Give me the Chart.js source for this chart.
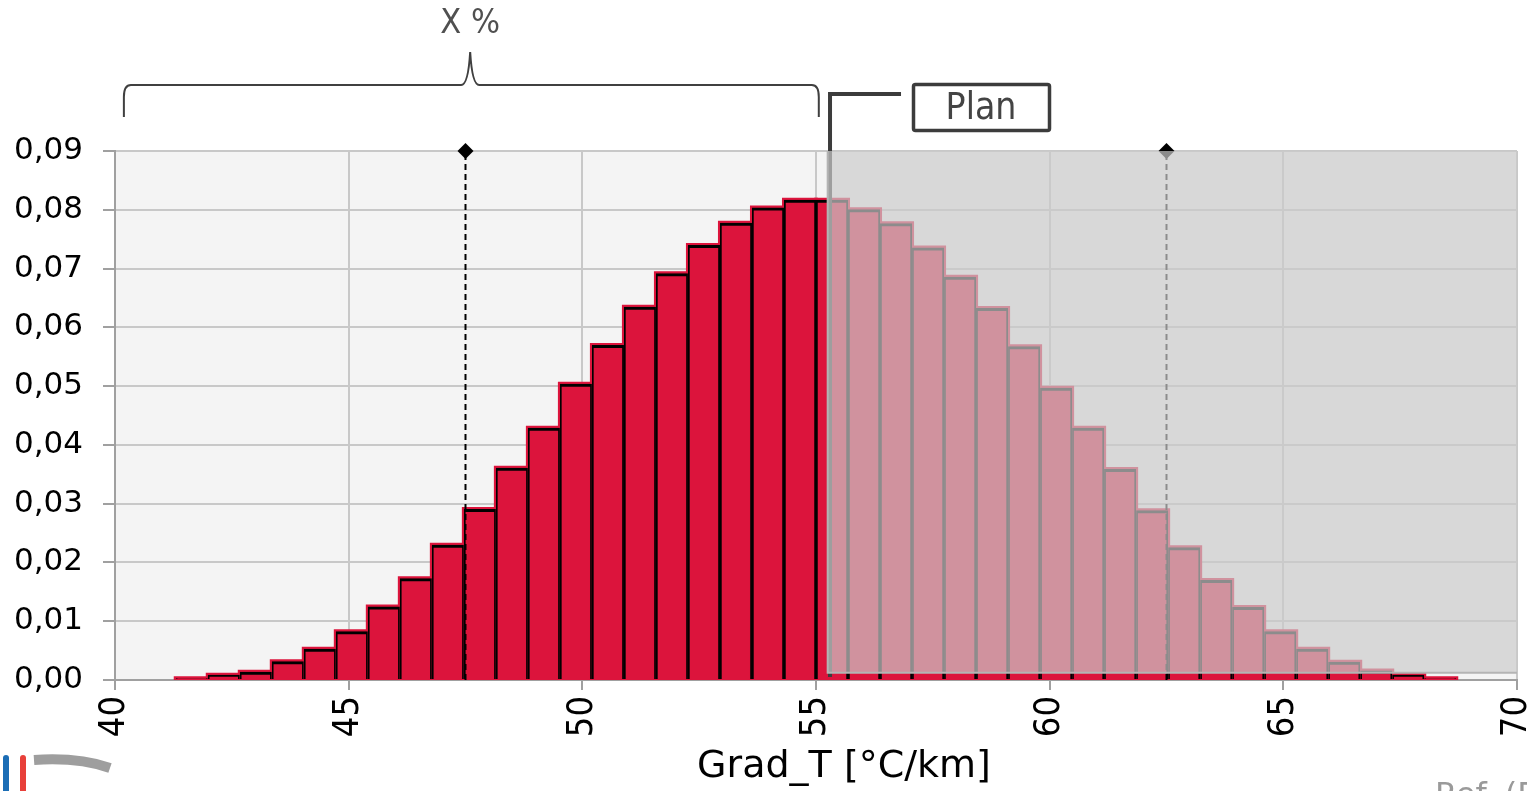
<!DOCTYPE html>
<html>
<head>
<meta charset="utf-8">
<script src="https://cdn.jsdelivr.net/npm/chart.js@4/dist/chart.umd.min.js"></script>
<style>
  html, body { margin: 0; padding: 0; background: #ffffff; }
  #wrap { width: 1527px; height: 791px; overflow: hidden; position: relative; }
  canvas { display: block; }
</style>
</head>
<body>
<div id="wrap"><canvas id="chart" width="1580" height="791"></canvas></div>
<script>
// Histogram of the geothermal gradient: bin centres in °C/km
const binCenters = [
  41.6425, 42.3275, 43.0125, 43.6975, 44.3825, 45.0675, 45.7525, 46.4375, 47.1225, 47.8075,
  48.4925, 49.1775, 49.8625, 50.5475, 51.2325, 51.9175, 52.6025, 53.2875, 53.9725, 54.6575,
  55.3425, 56.0275, 56.7125, 57.3975, 58.0825, 58.7675, 59.4525, 60.1375, 60.8225, 61.5075,
  62.1925, 62.8775, 63.5625, 64.2475, 64.9325, 65.6175, 66.3025, 66.9875, 67.6725, 68.3575
];

// Probability density per bin
const density = [
  0.0003, 0.0009, 0.0014, 0.0032, 0.0053, 0.0083, 0.0125, 0.0173, 0.0230, 0.0291,
  0.0361, 0.0429, 0.0504, 0.0570, 0.0635, 0.0692, 0.0740, 0.0778, 0.0804, 0.0817,
  0.0817, 0.0801, 0.0777, 0.0736, 0.0686, 0.0633, 0.0568, 0.0497, 0.0429, 0.0359,
  0.0289, 0.0226, 0.0170, 0.0124, 0.0083, 0.0053, 0.0031, 0.0016, 0.0009, 0.0003
];

// Percentile markers (dashed verticals with a diamond on top)
const markerValues = [47.5, 62.5];

// Axis ticks
const xTicks = [40, 45, 50, 55, 60, 65, 70];
const yTicks = [0, 0.01, 0.02, 0.03, 0.04, 0.05, 0.06, 0.07, 0.08, 0.09];

// Annotation anchors (axis units)
const planThreshold = 55.3;     // "Plan" cut-off
const shadeStart = 55.25;       // shaded (excluded) range starts here
const shadeFloor = 0.00125;     // shaded band stops just above the baseline
const braceFrom = 40.19, braceTo = 55.06, braceTip = 47.6;

const RED = '#dc143c';
Chart.defaults.font.family = "'DejaVu Sans', sans-serif";

const points = () => binCenters.map((x, i) => ({ x, y: density[i] }));
const markerLine = (v) => ({
  type: 'line',
  data: [{ x: v, y: 0 }, { x: v, y: yTicks[yTicks.length - 1] }],
  borderColor: '#000',
  borderWidth: 2,
  borderDash: [6, 4],
  pointRadius: [0, 8],
  pointStyle: 'rectRot',
  pointBackgroundColor: '#000',
  pointBorderWidth: 0,
  clip: false,
  order: 1
});

const decor = {
  id: 'decor',
  beforeDraw(chart) {
    const { ctx, chartArea: a } = chart;
    ctx.save();
    ctx.fillStyle = '#f4f4f4';
    ctx.fillRect(a.left, a.top, a.right - a.left, a.bottom - a.top);
    ctx.restore();
  },
  afterDatasetsDraw(chart) {
    const { ctx, chartArea: a, scales: { x, y } } = chart;
    ctx.save();
    // leader line from the "Plan" box down the cut-off
    const px = x.getPixelForValue(planThreshold);
    ctx.strokeStyle = '#3c3c3c';
    ctx.lineWidth = 4;
    ctx.lineJoin = 'miter';
    ctx.beginPath();
    ctx.moveTo(px + 71, 94);
    ctx.lineTo(px, 94);
    ctx.lineTo(px, y.getPixelForValue(0.0005));
    ctx.stroke();
    // translucent band over the part above the cut-off
    const x0 = x.getPixelForValue(shadeStart);
    const y0 = y.getPixelForValue(yTicks[yTicks.length - 1]);
    const y1 = y.getPixelForValue(shadeFloor);
    ctx.fillStyle = 'rgba(203,203,203,0.69)';
    ctx.fillRect(x0, y0, a.right - x0, y1 - y0);
    ctx.strokeStyle = '#b4b4b4';
    ctx.lineWidth = 2;
    ctx.beginPath();
    ctx.moveTo(a.right, y1);
    ctx.lineTo(x0, y1);
    ctx.lineTo(x0, y0);
    ctx.stroke();
    ctx.restore();
  },
  afterDraw(chart) {
    const { ctx, scales: { x } } = chart;
    ctx.save();
    // curly brace spanning the retained range
    const bl = x.getPixelForValue(braceFrom);
    const br = x.getPixelForValue(braceTo);
    const bt = x.getPixelForValue(braceTip);
    ctx.strokeStyle = '#404040';
    ctx.lineWidth = 2;
    ctx.beginPath();
    ctx.moveTo(bl, 117);
    ctx.lineTo(bl, 97);
    ctx.quadraticCurveTo(bl, 85, bl + 7, 85);
    ctx.lineTo(bt - 9, 85);
    ctx.quadraticCurveTo(bt - 2, 85, bt, 52);
    ctx.quadraticCurveTo(bt + 2, 85, bt + 9, 85);
    ctx.lineTo(br - 7, 85);
    ctx.quadraticCurveTo(br, 85, br, 97);
    ctx.lineTo(br, 117);
    ctx.stroke();

    ctx.fillStyle = '#505050';
    ctx.font = "34px 'DejaVu Sans Condensed', 'DejaVu Sans', sans-serif";
    ctx.textAlign = 'center';
    ctx.textBaseline = 'middle';
    ctx.fillText('X %', bt, 24);

    // "Plan" label box
    ctx.strokeStyle = '#3c3c3c';
    ctx.lineWidth = 3.5;
    ctx.beginPath();
    ctx.roundRect(913.5, 84.5, 136, 46, 2);
    ctx.stroke();
    ctx.fillStyle = '#444444';
    ctx.font = "37px 'DejaVu Sans Condensed', 'DejaVu Sans', sans-serif";
    ctx.fillText('Plan', 981, 109);

    // axis title
    ctx.fillStyle = '#000';
    ctx.font = "38px 'DejaVu Sans', sans-serif";
    ctx.fillText('Grad_T [°C/km]', 844, 767);

    // corner logo
    ctx.fillStyle = '#1b6db5';
    ctx.beginPath(); ctx.roundRect(3, 755, 6, 44, 3); ctx.fill();
    ctx.fillStyle = '#e8403a';
    ctx.beginPath(); ctx.roundRect(20, 755, 6, 44, 3); ctx.fill();
    ctx.strokeStyle = '#9e9e9e';
    ctx.lineWidth = 10;
    ctx.beginPath();
    ctx.moveTo(34, 760);
    ctx.quadraticCurveTo(78, 757, 110, 768);
    ctx.stroke();

    // source reference (runs off the bottom edge)
    ctx.fillStyle = '#9a9a9a';
    ctx.font = "32px 'DejaVu Sans', sans-serif";
    ctx.textAlign = 'left';
    ctx.textBaseline = 'alphabetic';
    ctx.fillText('Ref. (F', 1435, 805);
    ctx.restore();
  }
};

new Chart(document.getElementById('chart'), {
  type: 'bar',
  data: {
    datasets: [
      {
        data: points(),
        backgroundColor: RED,
        borderWidth: 0,
        inflateAmount: 2,
        grouped: false,
        barPercentage: 1,
        categoryPercentage: 1,
        clip: { left: 10, top: 10, right: 10, bottom: 0 },
        order: 3
      },
      {
        data: points(),
        backgroundColor: 'rgba(0,0,0,0)',
        borderColor: '#000',
        borderWidth: { top: 3, left: 1.75, right: 1.75, bottom: 0 },
        borderSkipped: false,
        inflateAmount: 0,
        grouped: false,
        barPercentage: 1,
        categoryPercentage: 1,
        order: 2
      },
      ...markerValues.map(markerLine)
    ]
  },
  options: {
    responsive: false,
    animation: false,
    events: [],
    devicePixelRatio: 1,
    layout: { padding: { top: 151, right: 63, left: 0, bottom: 0 } },
    plugins: { legend: { display: false }, tooltip: { enabled: false } },
    scales: {
      x: {
        type: 'linear',
        min: xTicks[0],
        max: xTicks[xTicks.length - 1],
        offset: false,
        afterBuildTicks(s) { s.ticks = xTicks.map(v => ({ value: v })); },
        ticks: {
          autoSkip: false,
          maxRotation: 90,
          minRotation: 90,
          padding: 6,
          color: '#000',
          font: { family: "'DejaVu Sans Condensed', 'DejaVu Sans', sans-serif", size: 36 }
        },
        grid: { offset: false, color: '#c8c8c8', lineWidth: 2, tickLength: 10, tickColor: '#a0a0a0' },
        border: { color: '#a0a0a0', width: 2 },
        afterFit(s) { s.height = 111; }
      },
      y: {
        min: yTicks[0],
        max: yTicks[yTicks.length - 1],
        afterBuildTicks(s) { s.ticks = yTicks.map(v => ({ value: v })); },
        ticks: {
          padding: 20,
          color: '#000',
          font: { size: 31 },
          callback: v => v.toFixed(2).replace('.', ',')
        },
        grid: { color: '#c8c8c8', lineWidth: 2, tickLength: 12, tickColor: '#a0a0a0' },
        border: { color: '#a0a0a0', width: 2 },
        afterFit(s) { s.width = 115; }
      }
    }
  },
  plugins: [decor]
});
</script>
</body>
</html>
